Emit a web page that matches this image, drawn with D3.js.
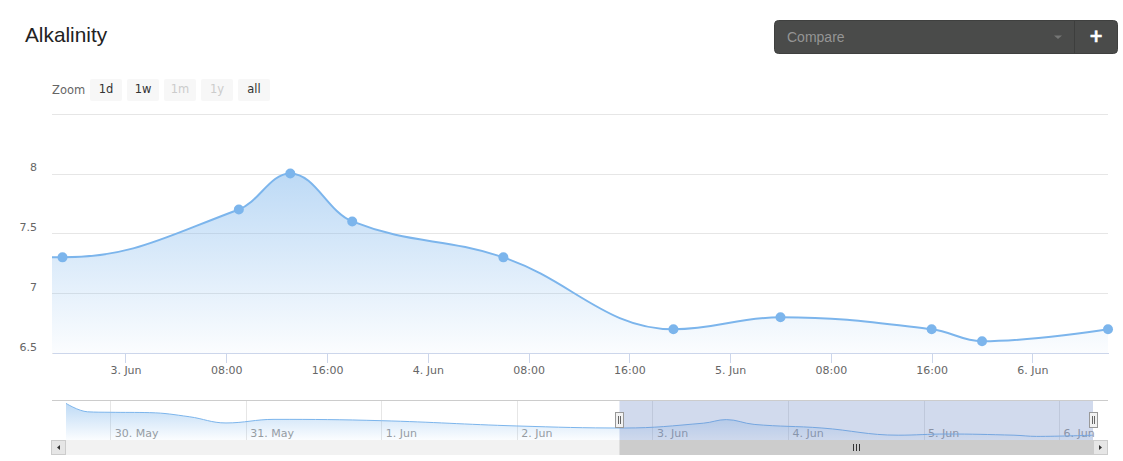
<!DOCTYPE html>
<html>
<head>
<meta charset="utf-8">
<script src="https://cdn.jsdelivr.net/npm/d3@7"></script>
<style>
html,body{margin:0;padding:0;background:#fff;overflow:hidden}
svg{display:block}
text{font-family:"DejaVu Sans",Verdana,sans-serif}
</style>
</head>
<body>
<svg id="chart" width="1123" height="461"></svg>
<script>
const chartTitle = "Alkalinity";
const comparePlaceholder = "Compare";
const zoomLabel = "Zoom";
const zoomButtons = ["1d", "1w", "1m", "1y", "all"];
const zoomDisabled = [false, false, true, true, false];

const times = [
  "2015-05-29T16:00Z","2015-05-29T20:00Z","2015-05-30T00:00Z","2015-05-30T07:00Z","2015-05-30T14:00Z",
  "2015-05-30T20:30Z","2015-05-31T05:00Z","2015-06-01T00:00Z","2015-06-02T00:00Z","2015-06-02T19:00Z",
  "2015-06-03T09:00Z","2015-06-03T13:05Z","2015-06-03T18:00Z","2015-06-04T06:00Z","2015-06-04T19:30Z",
  "2015-06-05T04:00Z","2015-06-05T16:00Z","2015-06-05T20:00Z","2015-06-06T06:00Z"
];
const values = [9.4,8.65,8.61,8.58,8.24,7.72,8.02,7.91,7.47,7.3,7.7,8,7.6,7.3,6.7,6.8,6.7,6.6,6.7];

const mainStart = "2015-06-02T18:10Z";
const mainEnd = "2015-06-06T06:00Z";
const mainTicks = [
  "2015-06-03T00:00Z","2015-06-03T08:00Z","2015-06-03T16:00Z","2015-06-04T00:00Z","2015-06-04T08:00Z",
  "2015-06-04T16:00Z","2015-06-05T00:00Z","2015-06-05T08:00Z","2015-06-05T16:00Z","2015-06-06T00:00Z"
];
const yTicks = [6.5, 7, 7.5, 8, 8.5];
const navTicks = ["2015-05-30T00:00Z","2015-05-31T00:00Z","2015-06-01T00:00Z","2015-06-02T00:00Z","2015-06-03T00:00Z","2015-06-04T00:00Z","2015-06-05T00:00Z","2015-06-06T00:00Z"];

const data = times.map((t, i) => ({ t: new Date(t), v: values[i] }));
const svg = d3.select("#chart");
const defs = svg.append("defs");
const BLUE = "#7cb5ec";

// Highcharts-style spline as a d3 curve
function stockSpline(context) {
  let pts;
  return {
    lineStart() { pts = []; },
    point(x, y) { pts.push([+x, +y]); },
    lineEnd() {
      const s = 1.5, d = 2.5, rc = [];
      pts.forEach((p, i) => {
        let lx = p[0], ly = p[1], rx = p[0], ry = p[1];
        if (i > 0 && i < pts.length - 1) {
          const a = pts[i - 1], b = pts[i + 1];
          lx = (s * p[0] + a[0]) / d; ly = (s * p[1] + a[1]) / d;
          rx = (s * p[0] + b[0]) / d; ry = (s * p[1] + b[1]) / d;
          const c = ((ry - ly) * (rx - p[0])) / (rx - lx) + p[1] - ry;
          ly += c; ry += c;
          if (ly > a[1] && ly > p[1]) { ly = Math.max(a[1], p[1]); ry = 2 * p[1] - ly; }
          else if (ly < a[1] && ly < p[1]) { ly = Math.min(a[1], p[1]); ry = 2 * p[1] - ly; }
          if (ry > b[1] && ry > p[1]) { ry = Math.max(b[1], p[1]); ly = 2 * p[1] - ry; }
          else if (ry < b[1] && ry < p[1]) { ry = Math.min(b[1], p[1]); ly = 2 * p[1] - ry; }
        }
        rc.push({ lx, ly, rx, ry });
      });
      pts.forEach((p, i) => {
        if (i === 0) context.moveTo(p[0], p[1]);
        else context.bezierCurveTo(rc[i - 1].rx, rc[i - 1].ry, rc[i].lx, rc[i].ly, p[0], p[1]);
      });
    }
  };
}

function gradient(id, y1, y2) {
  const g = defs.append("linearGradient").attr("id", id)
    .attr("gradientUnits", "userSpaceOnUse").attr("x1", 0).attr("x2", 0).attr("y1", y1).attr("y2", y2);
  g.append("stop").attr("offset", 0).attr("stop-color", BLUE).attr("stop-opacity", 0.5);
  g.append("stop").attr("offset", 1).attr("stop-color", BLUE).attr("stop-opacity", 0.03);
}
gradient("mainFill", 174, 353);
gradient("navFill", 403, 440);

const tickFmt = d => d.getUTCHours() === 0 ? d3.utcFormat("%-d. %b")(d) : d3.utcFormat("%H:%M")(d);

// closes a spline down to a baseline
function areaPath(lineGen, xs, base) {
  const first = xs(data[0].t), last = xs(data[data.length - 1].t);
  return lineGen(data) + `L${last},${base}L${first},${base}Z`;
}

// ---------- header ----------
svg.append("text").attr("x", 25).attr("y", 42).text(chartTitle)
  .style("font-family", '"Liberation Sans",Arial,sans-serif').style("font-size", "20.8px").attr("fill", "#222");

svg.append("rect").attr("x", 774.5).attr("y", 20.5).attr("width", 343).attr("height", 33).attr("rx", 4)
  .attr("fill", "#4a4b4a").attr("stroke", "#3f403f");
svg.append("line").attr("x1", 1074.5).attr("x2", 1074.5).attr("y1", 21).attr("y2", 53).attr("stroke", "#3d3e3d");
svg.append("text").attr("x", 787).attr("y", 42).text(comparePlaceholder)
  .style("font-family", '"Liberation Sans",Arial,sans-serif').style("font-size", "14px").attr("fill", "#959595");
svg.append("path").attr("d", "M1054 35.5h8l-4 3.5z").attr("fill", "#757675");
svg.append("text").attr("x", 1096).attr("y", 42).attr("text-anchor", "middle").text("+")
  .style("font-family", '"DejaVu Sans",sans-serif').style("font-size", "17px").style("font-weight", "bold")
  .attr("fill", "#fff").attr("stroke", "#fff").attr("stroke-width", 0.6);

svg.append("text").attr("x", 52).attr("y", 94).text(zoomLabel).style("font-size", "11.5px").attr("fill", "#666");
const btnX = d3.scaleOrdinal().domain(zoomButtons).range([90, 127, 164, 201, 238]);
const btn = svg.selectAll("g.btn").data(zoomButtons).join("g").attr("class", "btn")
  .attr("transform", d => `translate(${btnX(d)},79)`);
btn.append("rect").attr("width", 32).attr("height", 22).attr("rx", 2).attr("fill", "#f7f7f7");
btn.append("text").attr("x", 16).attr("y", 14).attr("text-anchor", "middle").text(d => d)
  .style("font-size", "11.5px").attr("fill", (d, i) => zoomDisabled[i] ? "#cccccc" : "#333333");

// ---------- main plot ----------
const L = 52, R = 1108;
const x = d3.scaleUtc().domain([new Date(mainStart), new Date(mainEnd)]).range([L, R]);
const y = d3.scaleLinear().domain([6.5, 8.5]).range([353.2, 113.6]);

defs.append("clipPath").attr("id", "mainClip").append("rect").attr("x", L).attr("y", 100).attr("width", R - L + 6).attr("height", 253.5);

const yAxis = svg.append("g").attr("transform", `translate(${L},0)`)
  .call(d3.axisLeft(y).tickValues(yTicks).tickSize(-(R - L)).tickFormat(d => d === 8.5 ? "" : String(d)).tickPadding(15));
yAxis.select(".domain").remove();
yAxis.selectAll("line").attr("stroke", "#e6e6e6").attr("shape-rendering", "crispEdges");
yAxis.selectAll("text").attr("fill", "#666").style("font-size", "11px").attr("dy", "-0.25em");

const mainLine = d3.line().x(d => x(d.t)).y(d => y(d.v)).curve(stockSpline);
const mainPlot = svg.append("g").attr("clip-path", "url(#mainClip)");
mainPlot.append("path").attr("fill", "url(#mainFill)").attr("d", areaPath(mainLine, x, y(6.5)));
mainPlot.append("path").datum(data).attr("fill", "none").attr("stroke", BLUE).attr("stroke-width", 2).attr("d", mainLine);
mainPlot.selectAll("circle").data(data.filter(d => d.t >= x.domain()[0])).join("circle")
  .attr("cx", d => x(d.t)).attr("cy", d => y(d.v)).attr("r", 5).attr("fill", BLUE);

const xAxis = svg.append("g").attr("transform", "translate(0,353)")
  .call(d3.axisBottom(x).tickValues(mainTicks.map(t => new Date(t))).tickSize(10).tickSizeOuter(0).tickPadding(3).tickFormat(tickFmt));
xAxis.select(".domain").attr("stroke", "#ccd6eb").attr("shape-rendering", "crispEdges");
xAxis.selectAll("line").attr("stroke", "#ccd6eb").attr("shape-rendering", "crispEdges");
xAxis.selectAll("text").attr("fill", "#666").style("font-size", "11px");

// ---------- navigator ----------
const navX = d3.scaleUtc().domain([new Date(times[0]), new Date(times[times.length - 1])]).range([65, 1093]);
const navY = d3.scaleLinear().domain([6.3, 9.55]).range([440, 401]);
defs.append("clipPath").attr("id", "navClip").append("rect").attr("x", 66).attr("y", 401).attr("width", 1028).attr("height", 39);

const navAxis = svg.append("g").attr("transform", "translate(0,440)")
  .call(d3.axisTop(navX).tickValues(navTicks.map(t => new Date(t))).tickSize(39).tickSizeOuter(0).tickPadding(0).tickFormat(d3.utcFormat("%-d. %b")));
navAxis.select(".domain").remove();
navAxis.selectAll("line").attr("stroke", "#e6e6e6").attr("shape-rendering", "crispEdges");
navAxis.selectAll("text").attr("fill", "#999").style("font-size", "11px").attr("text-anchor", "start")
  .attr("x", 4).attr("y", -3).attr("dy", 0);

const navLine = d3.line().x(d => navX(d.t)).y(d => navY(d.v)).curve(stockSpline);
const navPlot = svg.append("g").attr("clip-path", "url(#navClip)");
navPlot.append("path").attr("fill", "url(#navFill)").attr("d", areaPath(navLine, navX, 440));
navPlot.append("path").datum(data).attr("fill", "none").attr("stroke", BLUE).attr("stroke-width", 1).attr("d", navLine);

const selA = navX(new Date(mainStart)), selB = navX(new Date(mainEnd));
svg.append("rect").attr("x", selA).attr("y", 401).attr("width", selB - selA).attr("height", 39).attr("fill", "rgba(102,133,194,0.3)");
svg.append("line").attr("x1", L).attr("x2", R).attr("y1", 400.5).attr("y2", 400.5).attr("stroke", "#cccccc");

// scrollbar
svg.append("rect").attr("x", 51).attr("y", 440).attr("width", 1057).attr("height", 15).attr("fill", "#f2f2f2");
svg.append("rect").attr("x", selA).attr("y", 440).attr("width", selB - selA).attr("height", 15).attr("fill", "#cccccc");
[853, 856, 859].forEach(v => {
  svg.append("line").attr("x1", v + .5).attr("x2", v + .5).attr("y1", 444).attr("y2", 451).attr("stroke", "#333");
});
svg.append("rect").attr("x", 51.5).attr("y", 440.5).attr("width", 14).attr("height", 14).attr("fill", "#e6e6e6").attr("stroke", "#cccccc");
svg.append("rect").attr("x", 1093.5).attr("y", 440.5).attr("width", 14).attr("height", 14).attr("fill", "#e6e6e6").attr("stroke", "#cccccc");
svg.append("path").attr("d", "M60 445v5l-3-2.5z").attr("fill", "#333");
svg.append("path").attr("d", "M1099 445v5l3-2.5z").attr("fill", "#333");

// handles
[selA, selB].forEach(h => {
  const cx = Math.round(h);
  svg.append("rect").attr("x", cx - 3.5).attr("y", 412.5).attr("width", 8).attr("height", 15).attr("fill", "#f2f2f2").attr("stroke", "#999");
  svg.append("line").attr("x1", cx - .5).attr("x2", cx - .5).attr("y1", 416).attr("y2", 424).attr("stroke", "#666");
  svg.append("line").attr("x1", cx + 1.5).attr("x2", cx + 1.5).attr("y1", 416).attr("y2", 424).attr("stroke", "#666");
});
</script>
</body>
</html>
